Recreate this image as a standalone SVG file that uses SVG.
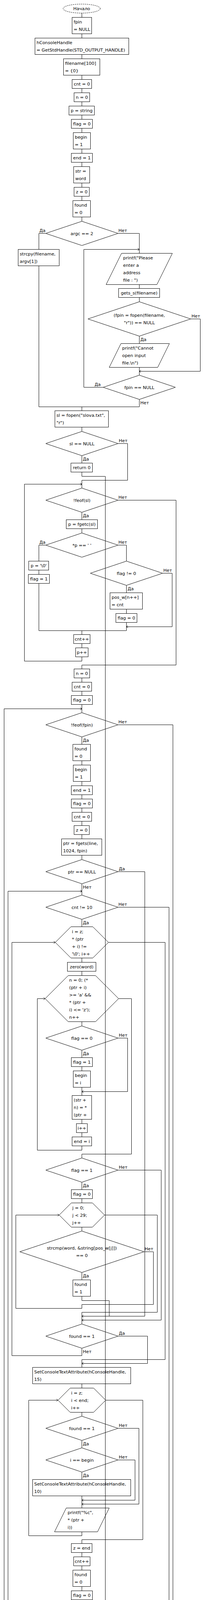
<svg xmlns="http://www.w3.org/2000/svg" width="522" height="4499" viewBox="0 0 522 4499">
<style>
.s{fill:none;stroke:#000;stroke-width:1}
.d{fill:none;stroke:#000;stroke-width:1;stroke-dasharray:3,2}
text{font-family:"DejaVu Sans","Verdana",sans-serif;font-size:11.25px;fill:#000}
.m{text-anchor:middle}
.e{text-anchor:end}
#conn path{fill:none;stroke:#000;stroke-width:1}
.a{marker-end:url(#ar)}
</style>
<defs>
<marker id="ar" viewBox="0 0 5 7" refX="4.5" refY="3.5" markerWidth="5" markerHeight="7" markerUnits="userSpaceOnUse" orient="auto"><path d="M0.5,0.5 L4.5,3.5 L0.5,6.5" fill="none" stroke="#000" stroke-width="1"/></marker>
</defs>
<rect x="0" y="0" width="522" height="4499" fill="#fff"/>

<g id="n_start"><ellipse class="d" cx="209" cy="22" rx="47.5" ry="11.5"/><text class="m" x="209" y="26">Начало</text></g>
<g id="n_fpin"><rect class="s" x="184.5" y="44.5" width="50" height="42"/><text x="188.5" y="60">fpin</text><text x="188.5" y="79">= NULL</text></g>
<g id="n_hcons"><rect class="s" x="89.5" y="97.5" width="240" height="42"/><text x="93.5" y="113">hConsoleHandle</text><text x="93.5" y="132">= GetStdHandle(STD_OUTPUT_HANDLE)</text></g>
<g id="n_filename"><rect class="s" x="162.5" y="150.5" width="93" height="42"/><text x="166.5" y="166">filename[100]</text><text x="166.5" y="185">= {0}</text></g>
<g id="n_cnt0"><rect class="s" x="184.5" y="203.5" width="50" height="23"/><text class="m" x="209.5" y="219">cnt = 0</text></g>
<g id="n_n0"><rect class="s" x="189.5" y="237.5" width="40" height="23"/><text class="m" x="209.5" y="253">n = 0</text></g>
<g id="n_pstr"><rect class="s" x="176.5" y="271.5" width="65" height="23"/><text class="m" x="209" y="287">p = string</text></g>
<g id="n_flag0"><rect class="s" x="182.5" y="305.5" width="54" height="23"/><text class="m" x="209.5" y="321">flag = 0</text></g>
<g id="n_begin1"><rect class="s" x="187.5" y="339.5" width="44" height="42"/><text x="191.5" y="355">begin</text><text x="191.5" y="374">= 1</text></g>
<g id="n_end1"><rect class="s" x="182.5" y="392.5" width="54" height="23"/><text class="m" x="209.5" y="408">end = 1</text></g>
<g id="n_str"><rect class="s" x="188.5" y="426.5" width="41" height="42"/><text x="192.5" y="442">str =</text><text x="192.5" y="461">word</text></g>
<g id="n_z0"><rect class="s" x="189.5" y="479.5" width="39" height="23"/><text class="m" x="209" y="495">z = 0</text></g>
<g id="n_found0"><rect class="s" x="186.5" y="513.5" width="45" height="42"/><text x="190.5" y="529">found</text><text x="190.5" y="548">= 0</text></g>
<g id="n_argc"><polygon class="s" points="209.5,566.5 302,597.5 209.5,628.5 117,597.5"/><text class="m" x="209.5" y="601.5">argc == 2</text></g>
<g id="n_strcpy"><rect class="s" x="46.5" y="638.5" width="105" height="42"/><text x="50.5" y="654">strcpy(filename,</text><text x="50.5" y="673">argv[1])</text></g>
<g id="n_please"><polygon class="s" points="311,648.5 441,648.5 401.5,728.5 271.5,728.5"/><text x="315" y="663.5">printf("Please</text><text x="315" y="682.5">enter a</text><text x="315" y="701.5">address</text><text x="315" y="720.5">file : ")</text></g>
<g id="n_gets"><rect class="s" x="303.5" y="738.5" width="105" height="23"/><text class="m" x="356" y="754">gets_s(filename)</text></g>
<g id="n_fopen"><polygon class="s" points="356.5,772.5 488,816.5 356.5,860.5 225,816.5"/><text class="m" x="356.5" y="811">(fpin = fopen(filename,</text><text class="m" x="356.5" y="830">"r")) == NULL</text></g>
<g id="n_cannot"><polygon class="s" points="309.5,879.5 433.5,879.5 403.5,940.5 279.5,940.5"/><text x="312.5" y="895">printf("Cannot</text><text x="312.5" y="914">open input</text><text x="312.5" y="933">file.\n")</text></g>
<g id="n_fpinnull"><polygon class="s" points="356.5,960.5 449,991.5 356.5,1022.5 264,991.5"/><text class="m" x="356.5" y="995.5">fpin == NULL</text></g>
<g id="n_sl"><rect class="s" x="140.5" y="1051.5" width="137" height="42"/><text x="144.5" y="1067">sl = fopen("slova.txt",</text><text x="144.5" y="1086">"r")</text></g>
<g id="n_slnull"><polygon class="s" points="209.5,1104.5 302,1135.5 209.5,1166.5 117,1135.5"/><text class="m" x="209.5" y="1139.5">sl == NULL</text></g>
<g id="n_ret"><rect class="s" x="181.5" y="1185.5" width="55" height="23"/><text class="m" x="209" y="1201">return 0</text></g>
<g id="n_feofsl"><polygon class="s" points="209.5,1249.5 302,1280.5 209.5,1311.5 117,1280.5"/><text class="m" x="209.5" y="1284.5">!feof(sl)</text></g>
<g id="n_fgetc"><rect class="s" x="169.5" y="1330.5" width="80" height="23"/><text class="m" x="209.5" y="1346">p = fgetc(sl)</text></g>
<g id="n_pspace"><polygon class="s" points="209.5,1364.5 302,1395.5 209.5,1426.5 117,1395.5"/><text class="m" x="209.5" y="1399.5">*p == ' '</text></g>
<g id="n_pnull"><rect class="s" x="73.5" y="1436.5" width="51" height="23"/><text class="m" x="99" y="1452">p = '\0'</text></g>
<g id="n_flag1a"><rect class="s" x="72.5" y="1470.5" width="54" height="23"/><text class="m" x="99.5" y="1486">flag = 1</text></g>
<g id="n_flagne0"><polygon class="s" points="323.5,1436.5 416,1467.5 323.5,1498.5 231,1467.5"/><text class="m" x="323.5" y="1471.5">flag != 0</text></g>
<g id="n_posw"><rect class="s" x="281.5" y="1517.5" width="83" height="42"/><text x="285.5" y="1533">pos_w[n++]</text><text x="285.5" y="1552">= cnt</text></g>
<g id="n_flag0b"><rect class="s" x="296.5" y="1570.5" width="54" height="23"/><text class="m" x="323.5" y="1586">flag = 0</text></g>
<g id="n_cntpp"><rect class="s" x="188.5" y="1624.5" width="42" height="23"/><text class="m" x="209.5" y="1640">cnt++</text></g>
<g id="n_ppp"><rect class="s" x="193.5" y="1658.5" width="32" height="23"/><text class="m" x="209.5" y="1674">p++</text></g>
<g id="n_n0b"><rect class="s" x="189.5" y="1712.5" width="40" height="23"/><text class="m" x="209.5" y="1728">n = 0</text></g>
<g id="n_cnt0b"><rect class="s" x="184.5" y="1746.5" width="50" height="23"/><text class="m" x="209.5" y="1762">cnt = 0</text></g>
<g id="n_flag0c"><rect class="s" x="182.5" y="1780.5" width="54" height="23"/><text class="m" x="209.5" y="1796">flag = 0</text></g>
<g id="n_feoffpin"><polygon class="s" points="209.5,1824.5 302,1855.5 209.5,1886.5 117,1855.5"/><text class="m" x="209.5" y="1859.5">!feof(fpin)</text></g>
<g id="n_found0b"><rect class="s" x="186.5" y="1905.5" width="45" height="42"/><text x="190.5" y="1921">found</text><text x="190.5" y="1940">= 0</text></g>
<g id="n_begin1b"><rect class="s" x="187.5" y="1958.5" width="44" height="42"/><text x="191.5" y="1974">begin</text><text x="191.5" y="1993">= 1</text></g>
<g id="n_end1b"><rect class="s" x="182.5" y="2011.5" width="54" height="23"/><text class="m" x="209.5" y="2027">end = 1</text></g>
<g id="n_flag0d"><rect class="s" x="182.5" y="2045.5" width="54" height="23"/><text class="m" x="209.5" y="2061">flag = 0</text></g>
<g id="n_cnt0c"><rect class="s" x="184.5" y="2079.5" width="50" height="23"/><text class="m" x="209.5" y="2095">cnt = 0</text></g>
<g id="n_z0b"><rect class="s" x="189.5" y="2113.5" width="39" height="23"/><text class="m" x="209" y="2129">z = 0</text></g>
<g id="n_fgets"><rect class="s" x="157.5" y="2147.5" width="103" height="42"/><text x="161.5" y="2163">ptr = fgets(line,</text><text x="161.5" y="2182">1024, fpin)</text></g>
<g id="n_ptrnull"><polygon class="s" points="209.5,2200.5 302,2231.5 209.5,2262.5 117,2231.5"/><text class="m" x="209.5" y="2235.5">ptr == NULL</text></g>
<g id="n_cnt10"><polygon class="s" points="209.5,2291.5 302,2322.5 209.5,2353.5 117,2322.5"/><text class="m" x="209.5" y="2326.5">cnt != 10</text></g>
<g id="n_fori"><polygon class="s" points="181.5,2372.5 237.5,2372.5 277.5,2412.5 237.5,2452.5 181.5,2452.5 141.5,2412.5"/><text x="184" y="2389">i = z;</text><text x="184" y="2408">* (ptr</text><text x="184" y="2427">+ i) !=</text><text x="184" y="2446">'\0'; i++</text></g>
<g id="n_zero"><rect class="s" x="172.5" y="2463.5" width="73" height="23"/><text class="m" x="209" y="2479">zero(word)</text></g>
<g id="n_forn"><polygon class="s" points="174.5,2497.5 244.5,2497.5 303.5,2556.5 244.5,2615.5 174.5,2615.5 115.5,2556.5"/><text x="177" y="2513">n = 0; (*</text><text x="177" y="2532">(ptr + i)</text><text x="177" y="2551">&gt;= 'a' &amp;&amp;</text><text x="177" y="2570">* (ptr +</text><text x="177" y="2589">i) &lt;= 'z');</text><text x="177" y="2608">n++</text></g>
<g id="n_flageq0"><polygon class="s" points="209.5,2626.5 302,2657.5 209.5,2688.5 117,2657.5"/><text class="m" x="209.5" y="2661.5">flag == 0</text></g>
<g id="n_flag1b"><rect class="s" x="182.5" y="2707.5" width="54" height="23"/><text class="m" x="209.5" y="2723">flag = 1</text></g>
<g id="n_begini"><rect class="s" x="187.5" y="2741.5" width="44" height="42"/><text x="191.5" y="2757">begin</text><text x="191.5" y="2776">= i</text></g>
<g id="n_strn"><rect class="s" x="184.5" y="2804.5" width="50" height="61"/><text x="188.5" y="2820">(str +</text><text x="188.5" y="2839">n) = *</text><text x="188.5" y="2858">(ptr +</text></g>
<g id="n_ipp"><rect class="s" x="195.5" y="2876.5" width="28" height="23"/><text class="m" x="209.5" y="2892">i++</text></g>
<g id="n_endi"><rect class="s" x="184.5" y="2910.5" width="50" height="23"/><text class="m" x="209.5" y="2926">end = i</text></g>
<g id="n_flageq1"><polygon class="s" points="209.5,2964.5 302,2995.5 209.5,3026.5 117,2995.5"/><text class="m" x="209.5" y="2999.5">flag == 1</text></g>
<g id="n_flag0e"><rect class="s" x="182.5" y="3045.5" width="54" height="23"/><text class="m" x="209.5" y="3061">flag = 0</text></g>
<g id="n_forj"><polygon class="s" points="182.5,3079.5 236.5,3079.5 267.5,3110.5 236.5,3141.5 182.5,3141.5 151.5,3110.5"/><text x="185" y="3095.5">j = 0;</text><text x="185" y="3114.5">j &lt; 29;</text><text x="185" y="3133.5">j++</text></g>
<g id="n_strcmp"><polygon class="s" points="209.5,3151.5 368.5,3204.5 209.5,3257.5 50.5,3204.5"/><text class="m" x="209.5" y="3199">strcmp(word, &amp;string[pos_w[j]])</text><text class="m" x="209.5" y="3218">== 0</text></g>
<g id="n_found1"><rect class="s" x="186.5" y="3276.5" width="45" height="42"/><text x="190.5" y="3292">found</text><text x="190.5" y="3311">= 1</text></g>
<g id="n_foundeq1"><polygon class="s" points="209.5,3389.5 302,3420.5 209.5,3451.5 117,3420.5"/><text class="m" x="209.5" y="3424.5">found == 1</text></g>
<g id="n_set15a"><rect class="s" x="83.5" y="3500.5" width="251" height="42"/><text x="87.5" y="3516">SetConsoleTextAttribute(hConsoleHandle,</text><text x="87.5" y="3535">15)</text></g>
<g id="n_forz"><polygon class="s" points="179.5,3553.5 239.5,3553.5 270.5,3584.5 239.5,3615.5 179.5,3615.5 148.5,3584.5"/><text x="182" y="3569.5">i = z;</text><text x="182" y="3588.5">i &lt; end;</text><text x="182" y="3607.5">i++</text></g>
<g id="n_foundeq1b"><polygon class="s" points="209.5,3625.5 302,3656.5 209.5,3687.5 117,3656.5"/><text class="m" x="209.5" y="3660.5">found == 1</text></g>
<g id="n_ibegin"><polygon class="s" points="209.5,3706.5 302,3737.5 209.5,3768.5 117,3737.5"/><text class="m" x="209.5" y="3741.5">i == begin</text></g>
<g id="n_set10"><rect class="s" x="83.5" y="3787.5" width="251" height="42"/><text x="87.5" y="3803">SetConsoleTextAttribute(hConsoleHandle,</text><text x="87.5" y="3822">10)</text></g>
<g id="n_printc1"><polygon class="s" points="169.5,3860.5 279.5,3860.5 249.5,3921.5 139.5,3921.5"/><text x="173" y="3876">printf("%c",</text><text x="173" y="3895">* (ptr +</text><text x="173" y="3914">i))</text></g>
<g id="n_zend"><rect class="s" x="182.5" y="3951.5" width="53" height="23"/><text class="m" x="209" y="3967">z = end</text></g>
<g id="n_cntpp2"><rect class="s" x="188.5" y="3985.5" width="42" height="23"/><text class="m" x="209.5" y="4001">cnt++</text></g>
<g id="n_found0c"><rect class="s" x="186.5" y="4019.5" width="45" height="42"/><text x="190.5" y="4035">found</text><text x="190.5" y="4054">= 0</text></g>
<g id="n_flag0f"><rect class="s" x="182.5" y="4072.5" width="54" height="23"/><text class="m" x="209.5" y="4088">flag = 0</text></g>
<g id="n_set15b"><rect class="s" x="83.5" y="4126.5" width="251" height="42"/><text x="87.5" y="4142">SetConsoleTextAttribute(hConsoleHandle,</text><text x="87.5" y="4161">15)</text></g>
<g id="n_forend"><polygon class="s" points="176,4179.5 243,4179.5 283.5,4219.5 243,4259.5 176,4259.5 135.5,4219.5"/><text x="179" y="4195.5">i = end;</text><text x="179" y="4214.5">* (ptr +</text><text x="179" y="4233.5">i) != '\0';</text><text x="179" y="4252.5">i++</text></g>
<g id="n_printc2"><polygon class="s" points="169.5,4270.5 279.5,4270.5 249.5,4331.5 139.5,4331.5"/><text x="173" y="4286">printf("%c",</text><text x="173" y="4305">* (ptr +</text><text x="173" y="4324">i))</text></g>
<g id="n_end"><ellipse class="d" cx="209.5" cy="4403" rx="43" ry="11.5"/><text class="m" x="209.5" y="4407">Конец</text></g>

<g id="conn">
<path d="M209.5 33.5V44.5M209.5 86.5V97.5M209.5 139.5V150.5M209.5 192.5V203.5M209.5 226.5V237.5M209.5 260.5V271.5M209.5 294.5V305.5M209.5 328.5V339.5M209.5 381.5V392.5M209.5 415.5V426.5M209.5 468.5V479.5M209.5 502.5V513.5M209.5 555.5V566.5"/>
<path d="M117 597.5H99.5V638.5"/>
<path d="M99.5 680.5V1041.5H356.5V1022.5"/>
<path d="M209.5 1041.5V1051.5"/>
<path d="M302 597.5H356.5V648.5"/>
<path class="a" d="M264 991.5H214.5V638.5H356.5"/>
<path d="M356.5 728.5V738.5M356.5 761.5V772.5M356.5 860.5V879.5M356.5 940.5V960.5"/>
<path class="a" d="M488 816.5H512.5V950.5H356.5"/>
<path d="M209.5 1093.5V1104.5M209.5 1166.5V1185.5"/>
<path class="a" d="M209.5 1208.5V1219.5H269.5V4381.5H209.5"/>
<path d="M302 1135.5H326.5V1229.5H209.5V1249.5"/>
<path class="a" d="M209.5 1681.5V1692.5H62.5V1239.5H209.5"/>
<path d="M209.5 1311.5V1330.5M209.5 1353.5V1364.5"/>
<path d="M117 1395.5H99.5V1436.5M99.5 1459.5V1470.5"/>
<path d="M99.5 1493.5V1614.5H323.5"/>
<path d="M302 1395.5H323.5V1436.5"/>
<path d="M323.5 1498.5V1517.5M323.5 1559.5V1570.5M323.5 1593.5V1614.5"/>
<path class="a" d="M416 1467.5H440.5V1604.5H323.5"/>
<path d="M209.5 1614.5V1624.5M209.5 1647.5V1658.5"/>
<path d="M302 1280.5H450.5V1702.5H209.5V1712.5"/>
<path d="M209.5 1735.5V1746.5M209.5 1769.5V1780.5M209.5 1803.5V1824.5"/>
<path class="a" d="M283.5 4219.5H301.5V4351.5H10.5V1814.5H209.5"/>
<path d="M209.5 1886.5V1905.5M209.5 1947.5V1958.5M209.5 2000.5V2011.5M209.5 2034.5V2045.5M209.5 2068.5V2079.5M209.5 2102.5V2113.5M209.5 2136.5V2147.5M209.5 2189.5V2200.5"/>
<path d="M302 1855.5H442.5V4361.5H209.5V4391.5"/>
<path class="a" d="M302 2231.5H370.5V3369.5H209.5"/>
<path d="M209.5 2262.5V2291.5"/>
<path class="a" d="M209.5 4095.5V4106.5H20.5V2281.5H209.5"/>
<path d="M209.5 2353.5V2372.5"/>
<path d="M302 2322.5H432.5V4116.5H209.5V4126.5"/>
<path d="M209.5 2452.5V2463.5M209.5 2486.5V2497.5M209.5 2615.5V2626.5"/>
<path class="a" d="M209.5 3451.5V3470.5H30.5V2412.5H141.5"/>
<path d="M277.5 2412.5H422.5V3480.5H209.5V3500.5"/>
<path d="M209.5 2688.5V2707.5M209.5 2730.5V2741.5M209.5 2783.5V2804.5M209.5 2865.5V2876.5M209.5 2899.5V2910.5"/>
<path class="a" d="M302 2657.5H326.5V2794.5H209.5"/>
<path class="a" d="M209.5 2933.5V2944.5H95.5V2556.5H115.5"/>
<path d="M303.5 2556.5H336.5V2954.5H209.5V2964.5"/>
<path d="M209.5 3026.5V3045.5M209.5 3068.5V3079.5"/>
<path class="a" d="M302 2995.5H412.5V3379.5H209.5"/>
<path d="M209.5 3141.5V3151.5M209.5 3257.5V3276.5"/>
<path d="M209.5 3318.5V3329.5H279.5V3369.5"/>
<path class="a" d="M368.5 3204.5H392.5V3339.5H209.5V3349.5H40.5V3110.5H151.5"/>
<path d="M267.5 3110.5H402.5V3359.5H209.5V3389.5"/>
<path class="a" d="M302 3420.5H377.5V3490.5H209.5"/>
<path d="M209.5 3542.5V3553.5M209.5 3615.5V3625.5M209.5 3687.5V3706.5M209.5 3768.5V3787.5M209.5 3829.5V3860.5"/>
<path class="a" d="M209.5 3921.5V3931.5H73.5V3584.5H148.5"/>
<path d="M270.5 3584.5H365.5V3941.5H209.5V3951.5"/>
<path class="a" d="M302 3656.5H355.5V3850.5H209.5"/>
<path class="a" d="M302 3737.5H345.5V3840.5H209.5"/>
<path d="M209.5 3974.5V3985.5M209.5 4008.5V4019.5M209.5 4061.5V4072.5"/>
<path d="M209.5 4168.5V4179.5M209.5 4259.5V4270.5"/>
<path class="a" d="M209.5 4331.5V4341.5H117.5V4219.5H135.5"/>
</g>

<g id="labels">
<text class="e" x="116.5" y="594">Да</text><text x="303" y="594">Нет</text>
<text x="490" y="812.5">Нет</text><text x="359" y="873">Да</text>
<text x="242" y="988">Да</text><text x="359" y="1034.5">Нет</text>
<text x="304" y="1132">Нет</text><text x="212" y="1179">Да</text>
<text x="303" y="1277">Нет</text><text x="212" y="1324">Да</text>
<text class="e" x="116.5" y="1392">Да</text><text x="303" y="1392">Нет</text>
<text x="418" y="1463.5">Нет</text><text x="326.5" y="1510.5">Да</text>
<text x="303" y="1852">Нет</text><text x="212" y="1899">Да</text>
<text x="304" y="2228">Да</text><text x="212" y="2274.5">Нет</text>
<text x="303" y="2319">Нет</text><text x="212" y="2366">Да</text>
<text x="304" y="2653.5">Нет</text><text x="212" y="2700.5">Да</text>
<text x="304" y="2992">Нет</text><text x="212" y="3038.5">Да</text>
<text x="370" y="3200.5">Нет</text><text x="212" y="3269.5">Да</text>
<text x="304" y="3417">Да</text><text x="212" y="3463.5">Нет</text>
<text x="304" y="3653">Нет</text><text x="212" y="3700">Да</text>
<text x="304" y="3734">Нет</text><text x="212" y="3780.5">Да</text>
</g>
</svg>
